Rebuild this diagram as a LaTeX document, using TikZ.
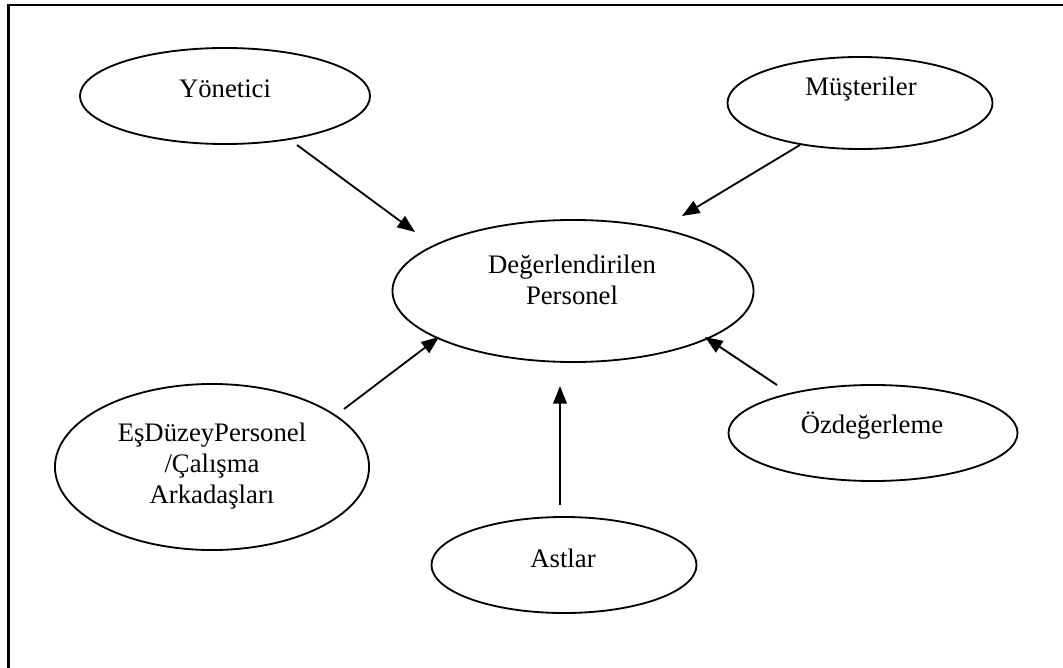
\documentclass[tikz,border=0pt]{standalone}
\usepackage{fontspec}
\setmainfont{Liberation Serif}
\usetikzlibrary{shapes.geometric,arrows.meta}
\begin{document}
\begin{tikzpicture}[x=0.025cm,y=-0.025cm,
  ell/.style={draw,ellipse,line width=1.3pt,inner sep=0pt,outer sep=0pt},
  lbl/.style={font=\fontsize{19}{21.8}\selectfont,align=center,inner sep=0pt},
  arr/.style={line width=1.3pt,-{Triangle[length=0.44cm,width=0.34cm]}}]
\useasboundingbox (0,0) rectangle (1063,668);
\draw[line width=2pt] (8.5,668) -- (8.5,5) -- (1063,5);
% ellipses
\node[ell,minimum width=7.25cm,minimum height=2.4cm] (yon) at (225,96) {};
\node[ell,minimum width=6.625cm,minimum height=2.3cm] (mus) at (860,103) {};
\node[ell,minimum width=9.025cm,minimum height=3.55cm] (cen) at (573,291) {};
\node[ell,minimum width=7.85cm,minimum height=4.15cm] (esd) at (212,467) {};
\node[ell,minimum width=7.225cm,minimum height=2.4cm] (ozd) at (873,433) {};
\node[ell,minimum width=6.625cm,minimum height=2.4cm] (ast) at (564,565) {};
% labels
\node[lbl] (yont) at (225,89) {Yönetici};
\node[lbl] (must) at (861,89) {Müşteriler};
\node[lbl] (cent) at (572,280) {Değerlendirilen\\Personel};
\node[lbl] (esdt) at (212,466) {EşDüzeyPersonel\\/Çalışma\\Arkadaşları};
\node[lbl] (ozdt) at (872,426) {Özdeğerleme};
\node[lbl] (astt) at (563,558) {Astlar};
% connector ends
\coordinate (syon) at (297,145);
\coordinate (tyon) at (415,232);
\coordinate (smus) at (800,145);
\coordinate (tmus) at (682,216);
\coordinate (sesd) at (344,409);
\coordinate (tesd) at (439,337);
\coordinate (sozd) at (777,385);
\coordinate (tozd) at (705,337);
\coordinate (sast) at (560,505);
\coordinate (tast) at (560,386);
\draw[arr] (syon) -- (tyon);
\draw[arr] (smus) -- (tmus);
\draw[arr] (sesd) -- (tesd);
\draw[arr] (sozd) -- (tozd);
\draw[arr] (sast) -- (tast);
\end{tikzpicture}
\end{document}
